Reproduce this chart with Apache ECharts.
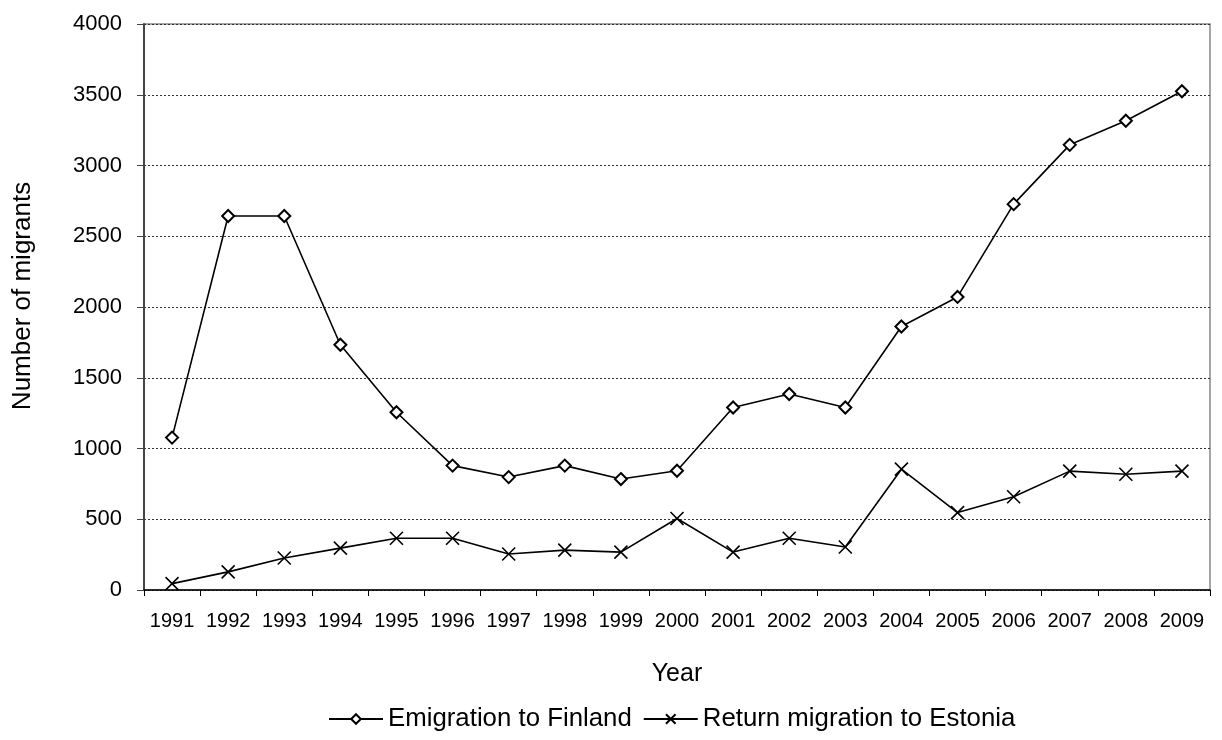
<!DOCTYPE html>
<html>
<head>
<meta charset="utf-8">
<script src="https://cdn.jsdelivr.net/npm/echarts@6/dist/echarts.min.js"></script>
<style>
html,body{margin:0;padding:0;background:#fff;}
#chart{width:1222px;height:740px;}
</style>
</head>
<body>
<div id="chart"></div>
<script>
var years = ['1991','1992','1993','1994','1995','1996','1997','1998','1999','2000','2001','2002','2003','2004','2005','2006','2007','2008','2009'];
var emigrationToFinland = [1077,2643,2643,1733,1256,879,798,879,784,843,1290,1385,1290,1862,2071,2727,3146,3316,3525];
var returnToEstonia = [45,128,226,296,366,366,254,282,268,505,268,366,304,854,547,659,840,818,840];
var seriesNames = ['Emigration to Finland','Return migration to Estonia'];
var yTitle = 'Number of migrants';
var xTitle = 'Year';

var FONT = '"Liberation Sans", Arial, sans-serif';
var chart = echarts.init(document.getElementById('chart'), null, {renderer:'canvas'});
var crossPath = 'path://M0,0L10,10M10,0L0,10';
chart.setOption({
  animation: false,
  backgroundColor: '#fff',
  textStyle: {fontFamily: FONT, color: '#000'},
  grid: {left: 144, right: 12, top: 24, bottom: 150, show: true, borderColor: '#888', borderWidth: 1.5, containLabel: false},
  legend: {
    left: 328, top: 706, padding: 0, itemWidth: 54, itemHeight: 12, itemGap: 11,
    textStyle: {fontFamily: FONT, fontSize: 25.8, color: '#000'},
    data: seriesNames
  },
  graphic: [{
    type: 'text',
    x: 23, y: 296, rotation: Math.PI/2,
    style: {text: yTitle, font: '26px ' + FONT, fill: '#000', textAlign: 'center', textVerticalAlign: 'middle'}
  }],
  xAxis: {
    type: 'category', data: years, boundaryGap: true,
    name: xTitle, nameLocation: 'middle', nameGap: 72,
    nameTextStyle: {fontFamily: FONT, fontSize: 25, color: '#000'},
    axisLine: {lineStyle: {color: '#000', width: 1.5}},
    axisTick: {show: true, length: 6, inside: false, lineStyle: {color: '#000', width: 1}},
    axisLabel: {interval: 0, fontFamily: FONT, fontSize: 20, color: '#000', margin: 21},
    splitLine: {show: false}
  },
  yAxis: {
    type: 'value', min: 0, max: 4000, interval: 500,
    axisLine: {show: true, lineStyle: {color: '#444', width: 2}},
    axisTick: {show: true, length: 7, lineStyle: {color: '#444', width: 1}},
    axisLabel: {fontFamily: FONT, fontSize: 22, color: '#000', margin: 22, formatter: function (v) { return String(v); }},
    splitLine: {show: true, lineStyle: {color: '#333', width: 1, type: [2, 2]}}
  },
  series: [
    {
      name: seriesNames[0], type: 'line', data: emigrationToFinland,
      symbol: 'emptyDiamond', symbolSize: 12, showAllSymbol: true,
      lineStyle: {color: '#000', width: 1.6},
      itemStyle: {color: '#000', borderColor: '#000', borderWidth: 1.5}
    },
    {
      name: seriesNames[1], type: 'line', data: returnToEstonia,
      symbol: crossPath, symbolSize: 13, showAllSymbol: true,
      lineStyle: {color: '#000', width: 1.6},
      itemStyle: {color: 'none', borderColor: '#000', borderWidth: 1.6}
    }
  ]
});
</script>
</body>
</html>
